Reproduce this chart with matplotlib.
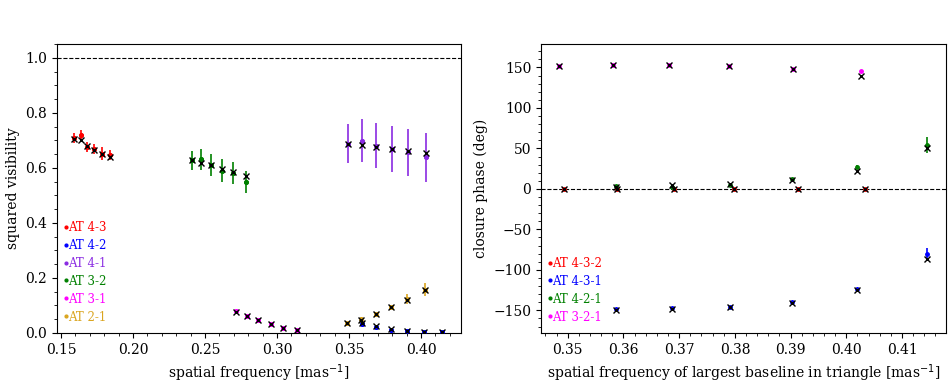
import numpy as np
import matplotlib.pyplot as plt
from matplotlib.lines import Line2D

plt.rcParams['font.family'] = 'DejaVu Serif'
plt.rcParams['font.size'] = 10

# --- squared visibilities per baseline ---
bl_names = ['AT 4-3', 'AT 4-2', 'AT 4-1', 'AT 3-2', 'AT 3-1', 'AT 2-1']
bl_colors = ['red', 'blue', 'blueviolet', 'green', 'magenta', 'goldenrod']

f_43 = [0.1590, 0.1639, 0.1680, 0.1729, 0.1785, 0.1840]
v2_43 = [0.707, 0.719, 0.677, 0.668, 0.652, 0.647]
e_43 = [0.018, 0.019, 0.018, 0.017, 0.022, 0.019]
m_43 = [0.704, 0.700, 0.680, 0.665, 0.650, 0.641]

f_42 = [0.3588, 0.3688, 0.3792, 0.3905, 0.4023, 0.4148]
v2_42 = [0.034, 0.022, 0.012, 0.007, 0.004, 0.002]
e_42 = [0.004, 0.003, 0.003, 0.002, 0.002, 0.002]
m_42 = [0.038, 0.024, 0.013, 0.007, 0.003, 0.002]

f_41 = [0.3493, 0.3588, 0.3690, 0.3797, 0.3912, 0.4037]
v2_41 = [0.688, 0.698, 0.681, 0.669, 0.656, 0.639]
e_41 = [0.071, 0.078, 0.081, 0.084, 0.086, 0.089]
m_41 = [0.688, 0.684, 0.676, 0.670, 0.662, 0.653]

f_32 = [0.2410, 0.2474, 0.2544, 0.2618, 0.2697, 0.2783]
v2_32 = [0.628, 0.631, 0.610, 0.590, 0.583, 0.550]
e_32 = [0.034, 0.039, 0.039, 0.041, 0.040, 0.040]
m_32 = [0.629, 0.617, 0.610, 0.595, 0.584, 0.572]

f_31 = [0.2716, 0.2790, 0.2870, 0.2956, 0.3044, 0.3140]
v2_31 = [0.079, 0.062, 0.046, 0.032, 0.018, 0.010]
e_31 = [0.003, 0.003, 0.002, 0.002, 0.002, 0.002]
m_31 = [0.078, 0.062, 0.046, 0.032, 0.019, 0.010]

f_21 = [0.3484, 0.3581, 0.3685, 0.3790, 0.3905, 0.4026]
v2_21 = [0.035, 0.050, 0.070, 0.093, 0.124, 0.157]
e_21 = [0.004, 0.005, 0.005, 0.007, 0.017, 0.023]
m_21 = [0.035, 0.047, 0.069, 0.094, 0.120, 0.155]

vis = [(f_43, v2_43, e_43, m_43), (f_42, v2_42, e_42, m_42),
       (f_41, v2_41, e_41, m_41), (f_32, v2_32, e_32, m_32),
       (f_31, v2_31, e_31, m_31), (f_21, v2_21, e_21, m_21)]

# --- closure phases per triangle ---
tri_names = ['AT 4-3-2', 'AT 4-3-1', 'AT 4-2-1', 'AT 3-2-1']
tri_colors = ['red', 'blue', 'green', 'magenta']

f_432 = [0.3493, 0.3589, 0.3690, 0.3798, 0.3913, 0.4034]
cp_432 = [-0.4, -0.3, -0.5, -0.4, -0.3, -0.4]
ecp_432 = [1.0, 1.0, 1.0, 1.0, 1.0, 1.2]
mcp_432 = [0.0, 0.0, 0.0, 0.0, 0.0, 0.0]

f_431 = [0.3587, 0.3687, 0.3792, 0.3902, 0.4020, 0.4145]
cp_431 = [-148.9, -147.7, -145.7, -139.9, -124.2, -80.6]
ecp_431 = [1.5, 1.5, 1.5, 1.5, 2.0, 7.0]
mcp_431 = [-149.5, -148.2, -146.0, -140.5, -124.8, -86.8]

f_421 = [0.3587, 0.3687, 0.3792, 0.3902, 0.4020, 0.4145]
cp_421 = [3.3, 2.5, 4.6, 12.0, 27.0, 54.0]
ecp_421 = [2.0, 2.0, 2.0, 2.0, 3.0, 10.0]
mcp_421 = [2.5, 5.0, 6.6, 11.5, 22.0, 50.0]

f_321 = [0.3485, 0.3581, 0.3682, 0.3790, 0.3904, 0.4026]
cp_321 = [151.9, 152.7, 152.7, 151.9, 147.8, 145.3]
ecp_321 = [1.5, 1.5, 1.5, 1.5, 1.5, 1.5]
mcp_321 = [151.9, 153.5, 153.3, 151.9, 148.0, 140.0]

cps = [(f_432, cp_432, ecp_432, mcp_432), (f_431, cp_431, ecp_431, mcp_431),
       (f_421, cp_421, ecp_421, mcp_421), (f_321, cp_321, ecp_321, mcp_321)]

fig = plt.figure(figsize=(9.53, 3.88), dpi=100)
ax1 = fig.add_axes([0.0598, 0.1418, 0.4239, 0.7448])
ax2 = fig.add_axes([0.5677, 0.1418, 0.4250, 0.7448])

# --- left: squared visibility ---
for (f, v, e, m), c in zip(vis, bl_colors):
    ax1.errorbar(f, v, yerr=e, fmt='.', color=c, ms=5, elinewidth=1.2,
                 ecolor=c, alpha=1.0, zorder=2)
    ax1.plot(f, v, '.', color=c, ms=5, zorder=3)
    ax1.plot(f, m, 'x', color='k', ms=4, mew=1.0, zorder=4)
ax1.axhline(1.0, color='k', ls='--', lw=0.8)
ax1.set_xlim(0.1472, 0.4278)
ax1.set_ylim(0, 1.05)
ax1.set_xlabel(r'spatial frequency [mas$^{-1}$]')
ax1.set_ylabel('squared visibility')
ax1.minorticks_on()
h1 = [Line2D([], [], marker='.', ls='none', color=c, ms=4) for c in bl_colors]
ax1.legend(h1, bl_names, loc='lower left', bbox_to_anchor=(0.0, 0.0),
           frameon=False, handlelength=0, handletextpad=0.1, labelspacing=0.42,
           fontsize=8.5, labelcolor=bl_colors, borderaxespad=0.4)

# --- right: closure phase ---
for (f, p, e, m), c in zip(cps, tri_colors):
    ax2.errorbar(f, p, yerr=e, fmt='.', color=c, ms=5, elinewidth=1.2,
                 ecolor=c, zorder=2)
    ax2.plot(f, m, 'x', color='k', ms=4, mew=1.0, zorder=4)
ax2.axhline(0, color='k', ls='--', lw=0.8)
ax2.set_xlim(0.3452, 0.4179)
ax2.set_ylim(-178, 179)
ax2.set_xlabel(r'spatial frequency of largest baseline in triangle [mas$^{-1}$]')
ax2.set_ylabel('closure phase (deg)')
ax2.minorticks_on()
h2 = [Line2D([], [], marker='.', ls='none', color=c, ms=4) for c in tri_colors]
ax2.legend(h2, tri_names, loc='lower left', bbox_to_anchor=(0.0, 0.0),
           frameon=False, handlelength=0, handletextpad=0.1, labelspacing=0.42,
           fontsize=8.5, labelcolor=tri_colors, borderaxespad=0.4)

fig.savefig('out.png', dpi=100)
